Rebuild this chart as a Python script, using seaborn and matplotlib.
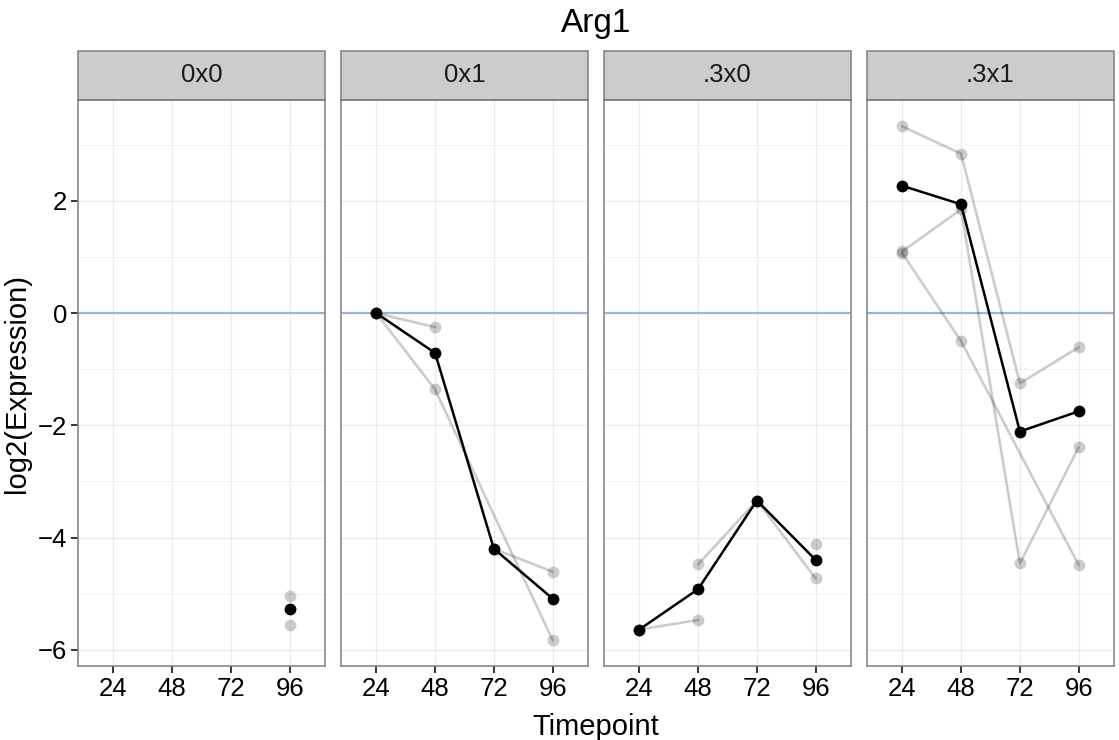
import numpy as np
import pandas as pd
import matplotlib.pyplot as plt
import seaborn as sns
from matplotlib.patches import Rectangle

# Values (log2 expression)
timepoints = [24, 48, 72, 96]
panels = ["0x0", "0x1", ".3x0", ".3x1"]

# replicate series per panel (None = missing)
reps_0x0 = [[None, None, None, -5.04],
            [None, None, None, -5.56]]
reps_0x1 = [[0.0, -0.25, None, None],
            [0.0, -1.36, None, -5.83],
            [None, None, -4.20, -4.61]]
reps_3x0 = [[-5.64, -5.47, None, None],
            [None, -4.48, -3.34, -4.73],
            [None, None, None, -4.12]]
reps_3x1 = [[3.33, 2.84, -1.25, -0.61],
            [1.10, 1.85, -4.46, -2.39],
            [1.07, -0.50, None, -4.49]]

# mean series (black)
mean_0x0 = [None, None, None, -5.27]
mean_0x1 = [0.0, -0.71, -4.20, -5.09]
mean_3x0 = [-5.64, -4.92, -3.34, -4.40]
mean_3x1 = [2.27, 1.94, -2.11, -1.75]

reps_by_panel = dict(zip(panels, [reps_0x0, reps_0x1, reps_3x0, reps_3x1]))
mean_by_panel = dict(zip(panels, [mean_0x0, mean_0x1, mean_3x0, mean_3x1]))

rows = []
for p in panels:
    for i, series in enumerate(reps_by_panel[p]):
        for t, v in zip(timepoints, series):
            if v is not None:
                rows.append({"panel": p, "rep": i, "Timepoint": t, "value": v})
reps_df = pd.DataFrame(rows)

rows = []
for p in panels:
    for t, v in zip(timepoints, mean_by_panel[p]):
        if v is not None:
            rows.append({"panel": p, "Timepoint": t, "value": v})
mean_df = pd.DataFrame(rows)

sns.set_theme(style="white")
plt.rcParams["font.family"] = ["Liberation Sans", "DejaVu Sans"]
plt.rcParams["text.color"] = "black"

fig, axes = plt.subplots(1, 4, figsize=(11.19, 7.4), dpi=100, sharey=True)
fig.subplots_adjust(left=0.0697, right=0.9955, top=0.8649, bottom=0.10, wspace=0.0648)

border = "#7F7F7F"
grid_col = "#EBEBEB"

for ax, p in zip(axes, panels):
    ax.set_facecolor("white")
    for y in [-5, -3, -1, 1, 3]:
        ax.axhline(y, color=grid_col, lw=0.5, zorder=0)
    for y in [-6, -4, -2, 0, 2]:
        ax.axhline(y, color=grid_col, lw=0.9, zorder=0)
    for x in timepoints:
        ax.axvline(x, color=grid_col, lw=0.9, zorder=0)
    ax.axhline(0, color="#9DB5CE", lw=1.6, zorder=1)

    sub = reps_df[reps_df["panel"] == p]
    sns.lineplot(data=sub, x="Timepoint", y="value", units="rep", estimator=None,
                 color="black", alpha=0.2, lw=1.9, marker="o", markersize=8.5,
                 markeredgewidth=0, legend=False, ax=ax, zorder=2)
    msub = mean_df[mean_df["panel"] == p]
    sns.lineplot(data=msub, x="Timepoint", y="value", color="black", lw=1.8,
                 marker="o", markersize=8.5, markeredgewidth=0, legend=False,
                 ax=ax, zorder=3)

    ax.set_xlim(9.6, 110.4)
    ax.set_ylim(-6.29, 3.80)
    ax.set_xticks(timepoints)
    ax.set_xticklabels([str(t) for t in timepoints])
    ax.set_yticks([-6, -4, -2, 0, 2])
    ax.set_xlabel("")
    ax.set_ylabel("")
    ax.grid(False)
    for s in ax.spines.values():
        s.set_color(border)
        s.set_linewidth(1.1)
        s.set_zorder(5)
    ax.tick_params(axis="x", length=5, width=1.1, color="black", pad=3,
                   labelsize=18.5, labelcolor="black", bottom=True)
    ax.tick_params(axis="y", length=5, width=1.1, color="black", pad=3,
                   labelsize=18.5, labelcolor="black", left=(ax is axes[0]))

    strip_h = 49 / 566
    ax.add_patch(Rectangle((0, 1), 1, strip_h, transform=ax.transAxes,
                           facecolor="#CCCCCC", edgecolor=border, lw=1.1,
                           clip_on=False, zorder=5))
    ax.text(0.5, 1 + strip_h / 2, p, transform=ax.transAxes, ha="center",
            va="center", fontsize=18.5, color="#1A1A1A", zorder=6)

fig.text(0.5326, 1 - 32 / 740, "Arg1", ha="center", va="baseline", fontsize=24,
         color="black")
fig.text(0.5326, 1 - 735 / 740, "Timepoint", ha="center", va="baseline", fontsize=21,
         color="black")
fig.text(0.0152, 0.4824, "log2(Expression)", rotation=90, ha="center", va="center",
         fontsize=21, color="black")

fig.savefig("out.png", dpi=100)
